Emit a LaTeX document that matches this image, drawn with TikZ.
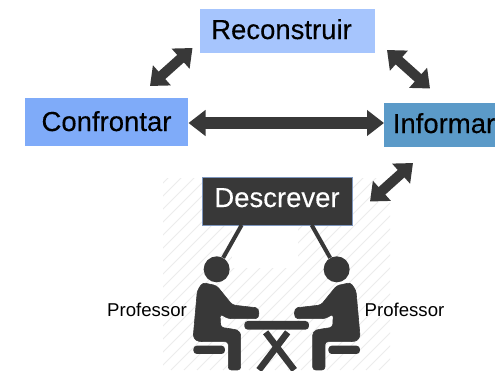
\documentclass[tikz,border=0pt]{standalone}
\usepackage{fontspec}
\setmainfont{Liberation Sans}
\newfontfamily\heavyf{Liberation Sans}[FakeBold=0.25]
\usetikzlibrary{arrows.meta}
\definecolor{ink}{HTML}{383838}
\definecolor{hatchc}{HTML}{ECECEC}
\tikzset{
  x=1pt,y=-1pt,
  boxn/.style={rectangle,minimum width=#1,inner sep=0pt,outer sep=0pt},
  lab/.style={inner sep=0pt,font=\heavyf\fontsize{27.5}{28}\selectfont,text=black,anchor=base},
  small/.style={inner sep=0pt,font=\fontsize{18.6}{19}\selectfont,text=black,anchor=base},
  dbl/.style={draw=ink,line width=10pt,{Triangle[length=16pt,width=26pt]}-{Triangle[length=16pt,width=26pt]}},
  dblw/.style={draw=ink,line width=12pt,{Triangle[length=17pt,width=25pt]}-{Triangle[length=17pt,width=25pt]}},
  stem/.style={draw=ink,line width=4pt},
  person/.style={fill=ink,draw=ink,line width=0.6pt,rounded corners=3pt},
}
\begin{document}
\begin{tikzpicture}
\useasboundingbox (0,0) rectangle (495,370);
\clip (0,0) rectangle (495,370);
\fill[white] (0,0) rectangle (495,370);
% hatching
\begin{scope}
\clip (163,178) rectangle (390,370);
\foreach \i in {0,13,...,440}{
  \draw[hatchc,line width=0.8pt] (163+\i-200,370) -- (163+\i,170);
}
\fill[white] (232,226) rectangle (298,268);
\end{scope}
% boxes
\node[boxn=175pt,minimum height=44pt,fill={rgb,255:red,166;green,197;blue,253}] (rec) at (287.5,31) {};
\node[boxn=163pt,minimum height=48pt,fill={rgb,255:red,127;green,171;blue,249}] (con) at (106.5,122) {};
\node[boxn=111pt,minimum height=44pt,fill={rgb,255:red,91;green,154;blue,200}] (inf) at (439.5,125) {};
\node[boxn=150pt,minimum height=48pt,fill=ink,draw={rgb,255:red,125;green,150;blue,190},line width=0.7pt] (des) at (277,201) {};
% text
\node[lab] (recT) at (281.5,39) {Reconstruir};
\node[lab] (conT) at (106.5,131) {Confrontar};
\node[lab] (infT) at (444,133) {Informar};
\node[lab,text=white] (desT) at (277,207) {Descrever};
\node[small] (pl) at (147,316) {Professor};
\node[small] (pr) at (404.5,316) {Professor};
% arrows
\coordinate (a1) at (150,86);
\coordinate (a2) at (192.5,48);
\coordinate (b1) at (387,50);
\coordinate (b2) at (430,88.5);
\coordinate (c1) at (370,201.5);
\coordinate (c2) at (413,163);
\coordinate (h1) at (188.5,123);
\coordinate (h2) at (384,123);
\draw[dbl] (a1) -- (a2);
\draw[dbl] (b1) -- (b2);
\draw[dbl] (c1) -- (c2);
\draw[dblw] (h1) -- (h2);
% people
\begin{scope}[shift={(160,170)},x=0.3333pt,y=-0.3333pt]
\node[circle,fill=ink,minimum size=26pt,inner sep=0pt] (hl) at (170,298) {};
\node[circle,fill=ink,minimum size=26pt,inner sep=0pt] (hr) at (530,298) {};
\coordinate (sl) at (245,165);
\coordinate (sr) at (455,165);
\draw[stem] (sl) -- (hl);
\draw[stem] (sr) -- (hr);
\foreach \m/\o in {1/0,-1/700}{
\begin{scope}[xshift=\o*0.3333pt,xscale=\m]
\path[person] (128,338) -- (170,347) -- (217,405) -- (278,412) .. controls (300,414) and (300,446) .. (278,446) -- (205,446) -- (180,432) -- (182,472) -- (222,478) .. controls (238,482) and (242,492) .. (242,505) -- (242,600) -- (205,600) -- (205,515) -- (125,515) .. controls (105,512) and (100,500) .. (101,485) -- (112,362) -- cycle;
\fill[ink,rounded corners=3.5pt] (100,527) rectangle (195,552);
\end{scope}
}
\fill[ink,rounded corners=3.5pt] (253,453) rectangle (447,479);
\draw[ink,line width=6.5pt] (317,487) -- (403,600);
\draw[ink,line width=6.5pt] (383,487) -- (297,600);
\end{scope}
\end{tikzpicture}
\end{document}
